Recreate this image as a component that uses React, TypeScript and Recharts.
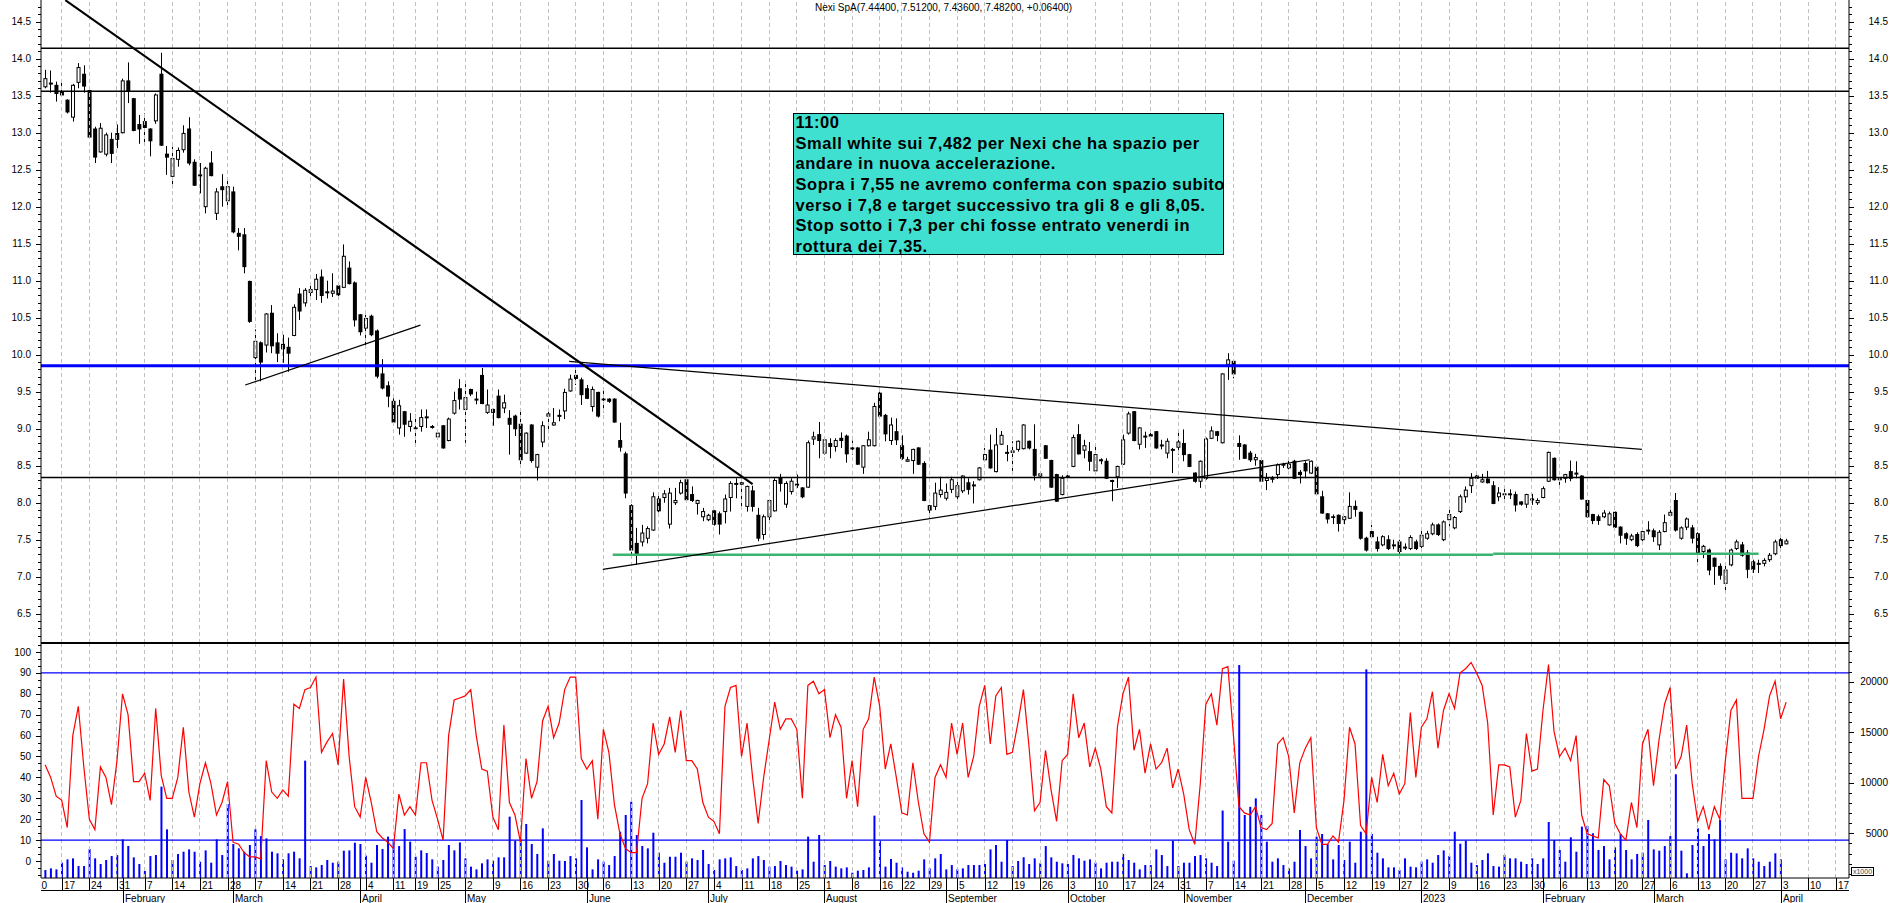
import React from 'react'
import { Bar, ComposedChart, Line, ReferenceLine, XAxis, YAxis } from 'recharts'

// x = trading-day index, 0 = Mon 10 Jan 2022, 316 = Mon 3 Apr 2023
const FIRST_DAY = 2
const X_DOMAIN: [number, number] = [1.25, 328.37]
const PRICE_DOMAIN: [number, number] = [6.104, 14.793]
const STOCH_DOMAIN: [number, number] = [-8.13, 104.3]
const VOLUME_DOMAIN: [number, number] = [577, 23831]

// [open, high, low, close]
const OHLC: [number, number, number, number][] = [
  [13.62, 13.85, 13.6, 13.73], [13.66, 13.84, 13.54, 13.67], [13.64, 13.69, 13.42, 13.53], [13.55, 13.69, 13.5, 13.51], [13.44, 13.45, 13.26, 13.28],
  [13.21, 13.66, 13.15, 13.64], [13.68, 13.94, 13.6, 13.88], [13.79, 13.91, 13.54, 13.63], [13.57, 13.59, 12.92, 12.94], [13.05, 13.08, 12.59, 12.67],
  [12.74, 13.13, 12.73, 13.06], [12.71, 13.0, 12.68, 12.97], [12.91, 13.0, 12.59, 12.72], [12.99, 13.11, 12.79, 12.91], [13.0, 13.73, 12.99, 13.7],
  [13.7, 13.95, 13.4, 13.57], [13.46, 13.47, 13.02, 13.03], [13.11, 13.24, 12.85, 13.05], [13.15, 13.26, 12.82, 13.07], [13.05, 13.06, 12.68, 12.89],
  [13.16, 13.53, 13.12, 13.51], [13.79, 14.08, 12.82, 12.83], [12.71, 12.82, 12.43, 12.67], [12.41, 12.81, 12.25, 12.65], [12.64, 12.8, 12.54, 12.76],
  [12.77, 13.1, 12.73, 12.99], [13.05, 13.21, 12.56, 12.59], [12.6, 12.64, 12.28, 12.29], [12.43, 12.59, 12.18, 12.43], [12.0, 12.54, 11.91, 12.52],
  [12.59, 12.75, 12.41, 12.42], [11.91, 12.25, 11.82, 12.2], [12.27, 12.44, 12.0, 12.23], [12.08, 12.36, 12.0, 12.27], [12.2, 12.27, 11.64, 11.66],
  [11.64, 11.71, 11.41, 11.6], [11.62, 11.71, 11.1, 11.19], [10.99, 11.0, 10.43, 10.45], [9.96, 10.34, 9.62, 10.18], [10.16, 10.18, 9.64, 9.9],
  [10.13, 10.56, 10.03, 10.55], [10.56, 10.67, 10.02, 10.12], [10.16, 10.29, 9.9, 10.02], [10.14, 10.27, 9.89, 10.08], [10.1, 10.23, 9.77, 10.02],
  [10.26, 10.68, 10.25, 10.64], [10.82, 10.9, 10.47, 10.59], [10.7, 10.9, 10.65, 10.87], [10.84, 10.97, 10.78, 10.88], [10.88, 11.09, 10.74, 11.02],
  [11.05, 11.15, 10.7, 10.8], [10.84, 11.0, 10.76, 10.85], [10.83, 11.1, 10.78, 10.86], [10.93, 10.95, 10.78, 10.81], [10.91, 11.49, 10.9, 11.33],
  [11.17, 11.26, 10.95, 10.96], [10.97, 10.99, 10.38, 10.47], [10.54, 10.55, 10.26, 10.31], [10.36, 10.54, 10.13, 10.49], [10.52, 10.54, 10.25, 10.27],
  [10.32, 10.34, 9.68, 9.71], [9.74, 9.94, 9.53, 9.55], [9.58, 9.64, 9.29, 9.44], [9.37, 9.41, 9.08, 9.09], [9.01, 9.39, 8.92, 9.31],
  [9.23, 9.24, 8.89, 9.06], [9.03, 9.21, 8.96, 9.1], [9.01, 9.19, 8.8, 9.0], [9.03, 9.26, 8.96, 9.15], [9.16, 9.26, 9.01, 9.16],
  [9.03, 9.05, 9.0, 9.03], [8.89, 8.94, 8.88, 8.94], [9.04, 9.05, 8.73, 8.74], [8.84, 9.15, 8.83, 9.13], [9.21, 9.5, 9.19, 9.38],
  [9.54, 9.67, 9.26, 9.4], [9.26, 9.64, 8.81, 9.42], [9.53, 9.54, 9.44, 9.47], [9.4, 9.5, 9.33, 9.4], [9.72, 9.82, 9.33, 9.34],
  [9.22, 9.53, 9.2, 9.32], [9.26, 9.27, 9.04, 9.22], [9.44, 9.53, 9.14, 9.15], [9.28, 9.46, 9.21, 9.35], [9.14, 9.25, 8.65, 9.06],
  [9.17, 9.19, 8.9, 9.0], [9.06, 9.26, 8.5, 8.58], [8.67, 8.95, 8.66, 8.94], [9.05, 9.06, 8.54, 8.57], [8.48, 8.66, 8.3, 8.65],
  [8.82, 9.1, 8.75, 9.04], [9.17, 9.23, 8.94, 9.2], [9.05, 9.28, 9.04, 9.08], [9.18, 9.26, 9.1, 9.18], [9.24, 9.54, 9.13, 9.49],
  [9.51, 9.73, 9.5, 9.67], [9.72, 9.82, 9.59, 9.68], [9.66, 9.69, 9.32, 9.46], [9.54, 9.59, 9.4, 9.41], [9.3, 9.57, 9.23, 9.53],
  [9.49, 9.5, 9.15, 9.17], [9.4, 9.54, 9.22, 9.39], [9.4, 9.41, 9.35, 9.37], [9.4, 9.41, 9.08, 9.09], [8.84, 9.08, 8.69, 8.75],
  [8.66, 8.69, 8.06, 8.13], [7.96, 7.98, 7.3, 7.36], [7.45, 7.66, 7.16, 7.31], [7.47, 7.7, 7.41, 7.59], [7.52, 7.68, 7.45, 7.65],
  [7.63, 8.14, 7.62, 8.08], [8.05, 8.11, 7.87, 7.89], [8.07, 8.17, 8.0, 8.12], [7.71, 8.2, 7.65, 8.13], [8.0, 8.2, 7.97, 8.03],
  [8.13, 8.31, 8.11, 8.27], [8.31, 8.32, 8.02, 8.04], [8.11, 8.22, 8.01, 8.03], [7.99, 8.04, 7.84, 8.03], [7.81, 7.93, 7.75, 7.88],
  [7.77, 7.85, 7.75, 7.83], [7.89, 7.9, 7.69, 7.71], [7.85, 7.88, 7.57, 7.71], [7.88, 8.11, 7.72, 8.05], [8.07, 8.29, 7.88, 8.26],
  [8.26, 8.33, 8.06, 8.26], [8.25, 8.34, 7.93, 8.27], [7.95, 8.23, 7.88, 8.22], [8.16, 8.23, 7.88, 7.95], [7.83, 7.93, 7.48, 7.52],
  [7.57, 7.84, 7.5, 7.81], [7.81, 8.04, 7.75, 8.03], [7.89, 8.33, 7.88, 8.3], [8.34, 8.39, 8.15, 8.26], [7.98, 8.29, 7.93, 8.26],
  [8.15, 8.33, 8.11, 8.29], [8.25, 8.38, 8.2, 8.25], [8.2, 8.21, 8.06, 8.08], [8.21, 8.84, 8.2, 8.81], [8.86, 8.96, 8.78, 8.89],
  [8.92, 9.09, 8.6, 8.84], [8.67, 8.88, 8.65, 8.85], [8.8, 8.87, 8.6, 8.76], [8.76, 8.87, 8.69, 8.84], [8.87, 8.95, 8.74, 8.84],
  [8.9, 8.92, 8.54, 8.66], [8.74, 8.84, 8.65, 8.74], [8.74, 8.75, 8.51, 8.52], [8.48, 8.78, 8.39, 8.77], [8.77, 8.96, 8.76, 8.85],
  [8.77, 9.35, 8.76, 9.3], [9.48, 9.5, 9.15, 9.17], [9.18, 9.2, 8.83, 8.93], [8.84, 9.15, 8.78, 9.05], [8.96, 9.14, 8.78, 8.85],
  [8.77, 8.91, 8.58, 8.6], [8.56, 8.62, 8.55, 8.58], [8.57, 8.73, 8.39, 8.72], [8.74, 8.75, 8.51, 8.52], [8.53, 8.56, 8.02, 8.03],
  [7.96, 7.97, 7.8, 7.9], [7.95, 8.27, 7.9, 8.13], [8.11, 8.35, 8.07, 8.17], [8.06, 8.26, 8.03, 8.14], [8.18, 8.35, 8.13, 8.31],
  [8.08, 8.33, 8.02, 8.23], [8.16, 8.37, 8.13, 8.36], [8.27, 8.33, 8.11, 8.18], [8.24, 8.29, 7.99, 8.24], [8.31, 8.48, 8.3, 8.47],
  [8.58, 8.74, 8.56, 8.65], [8.71, 8.92, 8.46, 8.47], [8.42, 9.01, 8.41, 8.78], [8.79, 8.97, 8.78, 8.91], [8.68, 8.78, 8.56, 8.68],
  [8.68, 8.83, 8.43, 8.7], [8.72, 8.84, 8.69, 8.83], [8.73, 9.06, 8.72, 9.05], [8.83, 8.84, 8.72, 8.74], [8.72, 9.06, 8.3, 8.37],
  [8.36, 8.4, 8.33, 8.39], [8.77, 8.78, 8.59, 8.6], [8.57, 8.58, 8.2, 8.21], [8.38, 8.39, 8.01, 8.02], [8.11, 8.37, 8.1, 8.33],
  [8.36, 8.38, 8.34, 8.36], [8.49, 8.92, 8.48, 8.88], [8.92, 9.06, 8.65, 8.66], [8.71, 8.85, 8.6, 8.77], [8.69, 8.82, 8.43, 8.56],
  [8.43, 8.78, 8.42, 8.65], [8.58, 8.6, 8.52, 8.58], [8.56, 8.6, 8.32, 8.33], [8.3, 8.31, 8.02, 8.3], [8.35, 8.5, 8.2, 8.49],
  [8.52, 8.92, 8.51, 8.85], [8.94, 9.23, 8.92, 9.2], [9.23, 9.24, 8.83, 8.84], [8.79, 9.02, 8.72, 9.01], [8.9, 8.96, 8.74, 8.9],
  [8.92, 8.98, 8.88, 8.9], [8.96, 8.97, 8.73, 8.74], [8.78, 8.85, 8.72, 8.78], [8.67, 8.87, 8.6, 8.83], [8.72, 8.74, 8.4, 8.72],
  [8.75, 8.99, 8.65, 8.82], [8.8, 8.99, 8.56, 8.65], [8.65, 8.66, 8.48, 8.49], [8.4, 8.41, 8.27, 8.29], [8.29, 8.57, 8.2, 8.56],
  [8.33, 8.88, 8.31, 8.86], [8.87, 9.03, 8.86, 8.97], [8.96, 8.97, 8.83, 8.91], [8.81, 9.75, 8.8, 9.74], [9.87, 10.02, 9.66, 9.93],
  [9.91, 9.92, 9.68, 9.74], [8.8, 8.91, 8.58, 8.76], [8.78, 8.79, 8.59, 8.6], [8.67, 8.7, 8.55, 8.58], [8.58, 8.66, 8.5, 8.61],
  [8.57, 8.58, 8.28, 8.29], [8.3, 8.4, 8.17, 8.33], [8.33, 8.36, 8.27, 8.33], [8.38, 8.53, 8.32, 8.51], [8.52, 8.54, 8.47, 8.52],
  [8.47, 8.6, 8.45, 8.52], [8.56, 8.58, 8.32, 8.33], [8.41, 8.44, 8.26, 8.38], [8.53, 8.56, 8.33, 8.43], [8.4, 8.57, 8.39, 8.56],
  [8.48, 8.49, 8.11, 8.12], [8.08, 8.16, 7.85, 7.86], [7.85, 7.86, 7.72, 7.78], [7.81, 7.84, 7.71, 7.8], [7.83, 7.84, 7.61, 7.72],
  [7.77, 7.82, 7.71, 7.81], [7.79, 8.14, 7.78, 7.95], [7.95, 8.03, 7.81, 7.91], [7.87, 7.88, 7.5, 7.52], [7.52, 7.54, 7.34, 7.36],
  [7.61, 7.7, 7.52, 7.54], [7.47, 7.54, 7.34, 7.38], [7.43, 7.56, 7.41, 7.54], [7.5, 7.56, 7.36, 7.38], [7.43, 7.5, 7.37, 7.43],
  [7.47, 7.5, 7.29, 7.34], [7.4, 7.45, 7.36, 7.4], [7.38, 7.56, 7.36, 7.53], [7.47, 7.5, 7.36, 7.38], [7.41, 7.63, 7.38, 7.56],
  [7.52, 7.62, 7.5, 7.58], [7.58, 7.73, 7.56, 7.7], [7.7, 7.72, 7.55, 7.57], [7.5, 7.76, 7.48, 7.74], [7.77, 7.94, 7.68, 7.84],
  [7.66, 7.82, 7.64, 7.8], [7.88, 8.11, 7.86, 8.08], [8.08, 8.22, 8.0, 8.17], [8.23, 8.4, 8.13, 8.33], [8.33, 8.4, 8.3, 8.36],
  [8.28, 8.39, 8.27, 8.31], [8.32, 8.43, 8.26, 8.27], [8.23, 8.29, 7.98, 7.99], [8.08, 8.21, 8.02, 8.13], [8.12, 8.2, 8.02, 8.12],
  [8.12, 8.18, 8.05, 8.12], [8.11, 8.15, 7.88, 7.97], [8.01, 8.02, 7.96, 7.98], [7.98, 8.12, 7.93, 8.11], [8.05, 8.12, 7.97, 8.05],
  [8.0, 8.06, 7.97, 8.03], [8.07, 8.22, 8.06, 8.19], [8.29, 8.69, 8.28, 8.68], [8.6, 8.61, 8.3, 8.31], [8.31, 8.34, 8.24, 8.33],
  [8.33, 8.39, 8.27, 8.38], [8.42, 8.57, 8.29, 8.33], [8.4, 8.56, 8.33, 8.4], [8.36, 8.37, 8.04, 8.05], [8.03, 8.04, 7.8, 7.81],
  [7.84, 7.85, 7.71, 7.76], [7.81, 7.84, 7.7, 7.76], [7.81, 7.9, 7.79, 7.86], [7.7, 7.88, 7.69, 7.85], [7.87, 7.88, 7.66, 7.67],
  [7.67, 7.68, 7.45, 7.56], [7.58, 7.6, 7.43, 7.52], [7.5, 7.58, 7.48, 7.55], [7.57, 7.6, 7.4, 7.42], [7.5, 7.64, 7.48, 7.61],
  [7.63, 7.75, 7.57, 7.63], [7.62, 7.65, 7.47, 7.54], [7.43, 7.63, 7.36, 7.6], [7.61, 7.84, 7.6, 7.73], [7.83, 7.93, 7.81, 7.87],
  [8.03, 8.13, 7.61, 7.63], [7.52, 7.68, 7.5, 7.66], [7.67, 7.8, 7.63, 7.78], [7.66, 7.7, 7.45, 7.52], [7.58, 7.6, 7.16, 7.31],
  [7.34, 7.43, 7.25, 7.41], [7.36, 7.38, 7.02, 7.09], [7.25, 7.26, 6.89, 7.14], [7.14, 7.18, 6.96, 7.02], [6.91, 7.18, 6.82, 7.09],
  [7.16, 7.38, 7.14, 7.36], [7.38, 7.5, 7.36, 7.47], [7.43, 7.47, 7.27, 7.29], [7.32, 7.36, 6.98, 7.1], [7.2, 7.23, 7.05, 7.1],
  [7.18, 7.23, 7.05, 7.18], [7.18, 7.25, 7.14, 7.22], [7.23, 7.32, 7.2, 7.29], [7.31, 7.5, 7.29, 7.47], [7.5, 7.54, 7.36, 7.42],
  [7.444, 7.512, 7.436, 7.482],
]

const STOCH = [
  46, 40, 31, 29, 16, 60, 74, 45, 20, 15,
  45, 40, 27, 48, 80, 70, 38, 38, 42, 29,
  73, 41, 30, 30, 40, 64, 33, 21, 37, 47,
  37, 22, 28, 38, 9, 8, 4, 2, 2, 1,
  48, 33, 30, 34, 31, 75, 73, 82, 83, 88,
  52, 57, 61, 46, 87, 50, 26, 21, 40, 28,
  14, 11, 9, 6, 32, 22, 26, 22, 47, 47,
  29, 20, 10, 60, 77, 78, 79, 82, 60, 44,
  43, 21, 15, 65, 28, 22, 9, 49, 30, 38,
  67, 74, 59, 66, 82, 88, 88, 49, 44, 48,
  20, 63, 52, 27, 13, 6, 4, 4, 30, 37,
  66, 51, 56, 69, 52, 72, 48, 48, 44, 28,
  21, 19, 13, 74, 83, 84, 50, 66, 40, 18,
  40, 58, 76, 63, 68, 68, 63, 30, 84, 86,
  80, 82, 59, 70, 64, 30, 48, 26, 63, 68,
  88, 74, 44, 56, 40, 23, 22, 47, 28, 13,
  9, 40, 46, 40, 66, 51, 66, 40, 50, 74,
  84, 56, 79, 83, 51, 52, 66, 82, 55, 24,
  28, 53, 34, 19, 48, 51, 80, 59, 66, 45,
  54, 44, 26, 23, 64, 80, 88, 53, 63, 42,
  56, 44, 47, 54, 35, 44, 32, 15, 8, 37,
  75, 80, 65, 92, 93, 60, 26, 23, 22, 26,
  16, 15, 18, 56, 59, 50, 23, 47, 54, 59,
  16, 8, 8, 12, 9, 29, 64, 56, 17, 13,
  40, 28, 51, 36, 42, 32, 37, 71, 40, 64,
  68, 81, 54, 72, 80, 73, 90, 92, 95, 90,
  84, 66, 22, 46, 46, 45, 21, 29, 61, 43,
  44, 72, 94, 62, 50, 54, 48, 60, 22, 13,
  12, 11, 39, 36, 18, 13, 10, 28, 16, 56,
  63, 36, 58, 75, 83, 44, 50, 65, 37, 19,
  26, 15, 26, 20, 48, 72, 77, 30, 30, 30,
  50, 63, 79, 86, 68, 76,
]

// thousands of shares
const VOLUME: (number | null)[] = [
  1370, 1530, 1430, 2090, 2420, 2520, 1760, 1760, 3450, 2520,
  1960, 2360, 2750, 2850, 4400, 3740, 2620, 1960, 1270, 2750,
  2850, 9620, 5390, 2360, 2950, 3180, 3410, 3180, 2190, 3310,
  2090, 4400, 2850, 7900, 3940, 3510, 3180, 3840, 5390, 4720,
  4500, 3180, 3020, 2420, 3020, 3180, 2520, 12190, 1760, 1630,
  1860, 2360, 2090, 2190, 3280, 3310, 4070, 3940, 2790, 2090,
  3840, 3450, 4670, 4400, 3740, 5420, 4170, 2680, 3310, 3050,
  2420, 1700, 2360, 3840, 3310, 4100, 2520, 1700, 1430, 2030,
  2420, 2290, 2620, 2620, 6650, 4270, 4400, 5920, 3940, 2950,
  5490, 2290, 2950, 2290, 2260, 2750, 2520, 8300, 3610, 1430,
  2420, 2190, 1860, 2750, 5160, 6810, 8130, 4830, 3740, 3510,
  5060, 3080, 2090, 2680, 2680, 3080, 2190, 2520, 2360, 3350,
  1960, 1370, 2420, 2520, 2620, 1760, 1370, 1530, 2520, 2750,
  2360, 1700, 1760, 2260, 1860, 1700, 1300, 1430, 4670, 2190,
  4830, 1860, 2260, 1700, 1530, 1630, 1100, 1300, 1370, 1630,
  6750, 4270, 1700, 2460, 2090, 1630, 1200, 1100, 1300, 2420,
  1530, 2520, 2950, 1430, 1860, 1430, 1530, 1860, 1860, 1860,
  1960, 3410, 3840, 2190, 4340, 1760, 2260, 2620, 1960, 2520,
  2030, 3740, 2620, 2190, 2030, 1960, 2850, 2520, 2290, 2420,
  2090, 1530, 2090, 2190, 2190, 2950, 2360, 2090, 1430, 1860,
  1860, 3410, 2850, 1760, 4270, 1760, 2090, 2090, 2750, 2850,
  2520, 2090, 1760, 7250, 4170, 2290, 21650, 6810, 7620, 8460,
  6810, 4170, 2190, 2520, 1860, 1530, 2190, 5330, 3740, 2520,
  4670, 4930, 3940, 2420, 3840, 2360, 4170, 2090, 5160, 21220,
  4930, 3080, 2520, 1630, 1630, 1370, 2520, 1700, 1630, 2190,
  2420, 2090, 2850, 3310, 2750, 5160, 3970, 4270, 2090, 1860,
  2360, 3020, 1760, 1700, 2850, 2520, 2520, 2190, 1960, 2520,
  1960, 2520, 6120, 4340, 3350, 2190, 4600, 3180, 5660, 5720,
  5000, 3350, 3740, 2420, 3610, 4930, 3350, 2420, 2950, 3080,
  6320, 3410, 3280, 3740, 4730, 10840, 3280, 1040, 3840, 5490,
  3740, 4930, 4400, 6320, 2420, 3080, 3020, 2520, 3510, 2520,
  2190, 1760, 2190, 3020, 2420, null,
]

// first trading day of each week, with its day-of-month label
const WEEK_TICKS: [number, string][] = [
  [0, '10'], [5, '17'], [10, '24'], [15, '31'], [20, '7'], [25, '14'], [30, '21'], [35, '28'],
  [40, '7'], [45, '14'], [50, '21'], [55, '28'], [60, '4'], [65, '11'], [69, '19'], [73, '25'],
  [78, '2'], [83, '9'], [88, '16'], [93, '23'], [98, '30'], [103, '6'], [108, '13'], [113, '20'],
  [118, '27'], [123, '4'], [128, '11'], [133, '18'], [138, '25'], [143, '1'], [148, '8'], [153, '16'],
  [157, '22'], [162, '29'], [167, '5'], [172, '12'], [177, '19'], [182, '26'], [187, '3'], [192, '10'],
  [197, '17'], [202, '24'], [207, '31'], [212, '7'], [217, '14'], [222, '21'], [227, '28'], [232, '5'],
  [237, '12'], [242, '19'], [247, '27'], [251, '2'], [256, '9'], [261, '16'], [266, '23'], [271, '30'],
  [276, '6'], [281, '13'], [286, '20'], [291, '27'], [296, '6'], [301, '13'], [306, '20'], [311, '27'],
  [316, '3'], [321, '10'], [326, '17'],
]

const MONTH_TICKS: [number, string][] = [
  [16, 'February'], [36, 'March'], [59, 'April'], [78, 'May'], [100, 'June'], [122, 'July'],
  [143, 'August'], [165, 'September'], [187, 'October'], [208, 'November'], [230, 'December'],
  [251, '2023'], [273, 'February'], [293, 'March'], [316, 'April'],
]

const PRICE_LABELS = [6.5, 7, 7.5, 8, 8.5, 9, 9.5, 10, 10.5, 11, 11.5, 12, 12.5, 13, 13.5, 14, 14.5]
const STOCH_LABELS = [0, 10, 20, 30, 40, 50, 60, 70, 80, 90, 100]
const VOLUME_LABELS = [5000, 10000, 15000, 20000]

const BLACK_LEVELS = [14.14, 13.56, 8.34]
const BLUE_LEVEL = 9.85
const STOCH_BANDS = [90, 10]

// trendlines drawn on the chart: [[day, price], [day, price]]
const THICK_TREND: [number, number][] = [[5.65, 14.79], [130.0, 8.25]]
const THIN_TRENDS: [number, number][][] = [
  [[38.2, 9.59], [69.9, 10.4]],
  [[96.8, 9.91], [290.9, 8.72]],
  [[102.9, 7.1], [230.8, 8.58]],
]
const GREEN_SUPPORT: [number, number][][] = [
  [[104.7, 7.295], [264, 7.295]],
  [[264, 7.31], [312, 7.31]],
]

const TITLE = 'Nexi SpA(7.44400, 7.51200, 7.43600, 7.48200, +0.06400)'
const NOTE = [
  '11:00',
  'Small white sui 7,482 per Nexi che ha spazio per',
  'andare in nuova accelerazione.',
  'Sopra i 7,55 ne avremo conferma con spazio subito',
  'verso i 7,8 e target successivo tra gli 8 e gli 8,05.',
  'Stop sotto i 7,3 per chi fosse entrato venerdi in',
  'rottura dei 7,35.',
]

const FONT = '"Liberation Sans", Arial, sans-serif'
const PLOT_LEFT = 41
const GRID = '#c0c0c0'

const candles = OHLC.map(([o, h, l, c], n) => ({ i: FIRST_DAY + n, o, h, l, c, range: [l, h] }))
const lower = STOCH.map((k, n) => ({ i: FIRST_DAY + n, k, v: VOLUME[n] }))

const weekLabel = new Map(WEEK_TICKS)
const monthLabel = new Map(MONTH_TICKS)
const xTicks = Array.from(new Set([...WEEK_TICKS.map((t) => t[0]), ...MONTH_TICKS.map((t) => t[0])])).sort((a, b) => a - b)
const gridDays = WEEK_TICKS.map((t) => t[0]).filter((d) => d > X_DOMAIN[0])

const priceTicks = Array.from({ length: 86 }, (_, n) => Math.round((6.2 + n * 0.1) * 10) / 10)
const stochTicks = Array.from({ length: 34 }, (_, n) => ((n - 2) * 10) / 3)
const volumeTicks = Array.from({ length: 23 }, (_, n) => (n + 1) * 1000)

function Candle(props: any) {
  const { x, y, width, height, payload } = props
  if (!payload || height == null || !(payload.h > payload.l)) return null
  const { o, h, l, c } = payload
  const ppu = height / (h - l)
  const cx = x + width / 2
  const wx = Math.floor(cx) + 0.5
  const top = y + (h - Math.max(o, c)) * ppu
  const bot = y + (h - Math.min(o, c)) * ppu
  const up = c >= o
  return (
    <g>
      <line x1={wx} x2={wx} y1={y} y2={y + height} stroke="#000" strokeWidth={1} />
      {up ? (
        <rect x={cx - 1.5} y={top} width={3} height={Math.max(bot - top, 1)} fill="#fff" stroke="#000" strokeWidth={1} />
      ) : (
        <rect x={cx - 2} y={top - 0.5} width={4} height={Math.max(bot - top + 1, 1.5)} fill="#000" />
      )}
    </g>
  )
}

function valueTick(side: 'left' | 'right', labels: number[], fmt: (v: number) => string) {
  return (props: any) => {
    const { x, y, payload } = props
    const v = payload.value
    const major = labels.some((m) => Math.abs(m - v) < 1e-6)
    const yy = Math.round(y) + 0.5
    const len = major ? 5 : 3
    return (
      <g>
        <line x1={x} x2={side === 'left' ? x - len : x + len} y1={yy} y2={yy} stroke="#000" strokeWidth={1} />
        {major && (
          <text x={side === 'left' ? x - 10 : x + 39} y={y + 3.6} textAnchor="end" fontSize={10} fontFamily={FONT} fill="#000">
            {fmt(v)}
          </text>
        )}
      </g>
    )
  }
}

function DateTick(props: any) {
  const { x, y, payload } = props
  const v = payload.value
  const px = Math.round(x) + 0.5
  const wk = weekLabel.get(v)
  const mo = monthLabel.get(v)
  if (px < PLOT_LEFT) {
    // first week starts under the axis: only the part right of the axis shows
    return (
      <svg x={PLOT_LEFT} y={y} width={20} height={14} overflow="hidden">
        <text x={px + 1.5 - PLOT_LEFT} y={10.6} fontSize={10} fontFamily={FONT} fill="#000">{wk}</text>
      </svg>
    )
  }
  return (
    <g fontSize={10} fontFamily={FONT} fill="#000">
      {wk !== undefined && <line x1={px} x2={px} y1={y} y2={y + 13} stroke="#000" />}
      {wk !== undefined && <text x={px + 1.5} y={y + 10.6}>{wk}</text>}
      {mo !== undefined && <line x1={px} x2={px} y1={y} y2={y + 25} stroke="#000" />}
      {mo !== undefined && <text x={px + 1.5} y={y + 24.3}>{mo}</text>}
    </g>
  )
}

const seg = (s: [number, number][]) => s.map(([x, y]) => ({ x, y }))

function PriceChart() {
  return (
    <ComposedChart width={1890} height={643} data={candles} margin={{ top: 0, right: 0, bottom: 0, left: 0 }}>
      <XAxis type="number" dataKey="i" domain={X_DOMAIN} allowDataOverflow hide />
      <YAxis
        yAxisId="p"
        orientation="left"
        width={41}
        domain={PRICE_DOMAIN}
        allowDataOverflow
        ticks={priceTicks}
        interval={0}
        tickSize={0}
        tickMargin={0}
        tickLine={false}
        axisLine={{ stroke: '#000' }}
        tick={valueTick('left', PRICE_LABELS, (v) => v.toFixed(1))}
      />
      <YAxis
        yAxisId="pr"
        orientation="right"
        width={41}
        domain={PRICE_DOMAIN}
        allowDataOverflow
        ticks={priceTicks}
        interval={0}
        tickSize={0}
        tickMargin={0}
        tickLine={false}
        axisLine={{ stroke: '#000' }}
        tick={valueTick('right', PRICE_LABELS, (v) => v.toFixed(1))}
      />
      {gridDays.map((d) => (
        <ReferenceLine key={'g' + d} x={d} yAxisId="p" stroke={GRID} strokeDasharray="4 3" shapeRendering="crispEdges" />
      ))}
      {BLACK_LEVELS.map((lv) => (
        <ReferenceLine key={'b' + lv} y={lv} yAxisId="p" stroke="#000" strokeWidth={1.4} />
      ))}
      <ReferenceLine y={BLUE_LEVEL} yAxisId="p" stroke="#0000ff" strokeWidth={3} />
      {GREEN_SUPPORT.map((s, n) => (
        <ReferenceLine key={'s' + n} segment={seg(s)} yAxisId="p" stroke="#3cb371" strokeWidth={2.5} />
      ))}
      <ReferenceLine segment={seg(THICK_TREND)} yAxisId="p" stroke="#000" strokeWidth={2.2} ifOverflow="hidden" />
      {THIN_TRENDS.map((s, n) => (
        <ReferenceLine key={'t' + n} segment={seg(s)} yAxisId="p" stroke="#000" strokeWidth={1.2} />
      ))}
      <Bar dataKey="range" yAxisId="p" barSize={4} shape={Candle} isAnimationActive={false} />
    </ComposedChart>
  )
}

function OscillatorChart() {
  return (
    <ComposedChart width={1890} height={260} data={lower} margin={{ top: 0, right: 0, bottom: 0, left: 0 }}>
      <XAxis
        type="number"
        dataKey="i"
        domain={X_DOMAIN}
        allowDataOverflow
        height={25}
        ticks={xTicks}
        interval={0}
        tickSize={0}
        tickMargin={0}
        tickLine={false}
        axisLine={{ stroke: '#000' }}
        tick={DateTick}
      />
      <YAxis
        yAxisId="k"
        orientation="left"
        width={41}
        domain={STOCH_DOMAIN}
        allowDataOverflow
        ticks={stochTicks}
        interval={0}
        tickSize={0}
        tickMargin={0}
        tickLine={false}
        axisLine={{ stroke: '#000' }}
        tick={valueTick('left', STOCH_LABELS, (v) => String(Math.round(v)))}
      />
      <YAxis
        yAxisId="v"
        orientation="right"
        width={41}
        domain={VOLUME_DOMAIN}
        allowDataOverflow
        ticks={volumeTicks}
        interval={0}
        tickSize={0}
        tickMargin={0}
        tickLine={false}
        axisLine={{ stroke: '#000' }}
        tick={valueTick('right', VOLUME_LABELS, (v) => String(v))}
      />
      {gridDays.map((d) => (
        <ReferenceLine key={'g' + d} x={d} yAxisId="k" stroke={GRID} strokeDasharray="4 3" shapeRendering="crispEdges" />
      ))}
      {STOCH_BANDS.map((b) => (
        <ReferenceLine key={'k' + b} y={b} yAxisId="k" stroke="#0000ff" strokeWidth={1.4} />
      ))}
      <Bar dataKey="v" yAxisId="v" barSize={2} fill="#0000ff" isAnimationActive={false} />
      <Line dataKey="k" yAxisId="k" type="linear" stroke="#ff0000" strokeWidth={1.2} dot={false} isAnimationActive={false} />
    </ComposedChart>
  )
}

export default function App() {
  return (
    <div style={{ position: 'absolute', left: 0, top: 0, width: 1890, height: 903, background: '#fff', overflow: 'hidden', fontFamily: FONT }}>
      <div style={{ position: 'absolute', left: 0, top: 0 }}>
        <PriceChart />
      </div>
      <div style={{ position: 'absolute', left: 0, top: 643 }}>
        <OscillatorChart />
      </div>
      <div style={{ position: 'absolute', left: PLOT_LEFT, top: 642, width: 1808, height: 2, background: '#000' }} />
      <div style={{ position: 'absolute', left: PLOT_LEFT, top: 890, width: 1808, height: 1, background: '#000' }} />
      <div style={{ position: 'absolute', left: 815, top: 2, fontSize: 10, lineHeight: '12px', whiteSpace: 'nowrap', color: '#000' }}>
        {TITLE}
      </div>
      <div
        style={{
          position: 'absolute',
          left: 793,
          top: 113,
          width: 431,
          height: 142,
          boxSizing: 'border-box',
          border: '1px solid #000',
          background: '#40e0d0',
          overflow: 'visible',
        }}
      >
        <div style={{ position: 'relative', top: -1.8, left: 1.5, fontSize: 16.5, fontWeight: 700, lineHeight: '20.6px', letterSpacing: 0.55, whiteSpace: 'pre', color: '#000' }}>
          {NOTE.map((line, n) => (
            <div key={n}>{line}</div>
          ))}
        </div>
      </div>
      <div
        style={{
          position: 'absolute',
          left: 1851,
          top: 867,
          width: 23,
          height: 9,
          boxSizing: 'border-box',
          border: '1px solid #000',
          fontSize: 7,
          lineHeight: '7px',
          color: '#444',
          textAlign: 'center',
          background: '#fff',
        }}
      >
        x1000
      </div>
    </div>
  )
}
